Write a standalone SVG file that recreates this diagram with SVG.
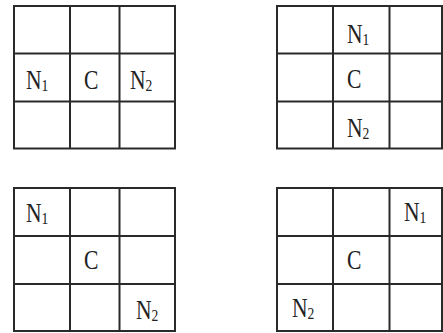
<svg xmlns="http://www.w3.org/2000/svg" width="443" height="333" viewBox="0 0 443 333">
<style>
.g{fill:none;stroke:#2a2a2a;stroke-width:2}
.t{font-family:"Liberation Serif","DejaVu Serif",serif;font-size:27px;fill:#222}
.s{font-size:17px}
</style>
<rect width="443" height="333" fill="#fff"/>
<g id="grid-top-left">
<rect class="g" x="14" y="6" width="161" height="142.5"/>
<path class="g" d="M70,6V148.5M119.5,6V148.5M14,53.5H175M14,101.5H175"/>
<text class="t" transform="translate(26,89) scale(0.8,1)">N<tspan class="s" dy="2">1</tspan></text>
<text class="t" transform="translate(84,89) scale(0.8,1)">C</text>
<text class="t" transform="translate(130,89) scale(0.8,1)">N<tspan class="s" dy="2">2</tspan></text>
</g>
<g id="grid-top-right">
<rect class="g" x="277" y="6" width="165" height="142.5"/>
<path class="g" d="M333,6V148.5M389.5,6V148.5M277,53.5H442M277,101.5H442"/>
<text class="t" transform="translate(347,43) scale(0.8,1)">N<tspan class="s" dy="2">1</tspan></text>
<text class="t" transform="translate(347,88) scale(0.8,1)">C</text>
<text class="t" transform="translate(347,137) scale(0.8,1)">N<tspan class="s" dy="2">2</tspan></text>
</g>
<g id="grid-bottom-left">
<rect class="g" x="14" y="188" width="161" height="143"/>
<path class="g" d="M70,188V331M119.5,188V331M14,236H175M14,284H175"/>
<text class="t" transform="translate(26,222) scale(0.8,1)">N<tspan class="s" dy="2">1</tspan></text>
<text class="t" transform="translate(84,269) scale(0.8,1)">C</text>
<text class="t" transform="translate(136,319) scale(0.8,1)">N<tspan class="s" dy="2">2</tspan></text>
</g>
<g id="grid-bottom-right">
<rect class="g" x="277" y="188" width="165" height="143"/>
<path class="g" d="M333,188V331M389.5,188V331M277,236H442M277,284H442"/>
<text class="t" transform="translate(404,221) scale(0.8,1)">N<tspan class="s" dy="2">1</tspan></text>
<text class="t" transform="translate(347,269) scale(0.8,1)">C</text>
<text class="t" transform="translate(292,317) scale(0.8,1)">N<tspan class="s" dy="2">2</tspan></text>
</g>
</svg>
